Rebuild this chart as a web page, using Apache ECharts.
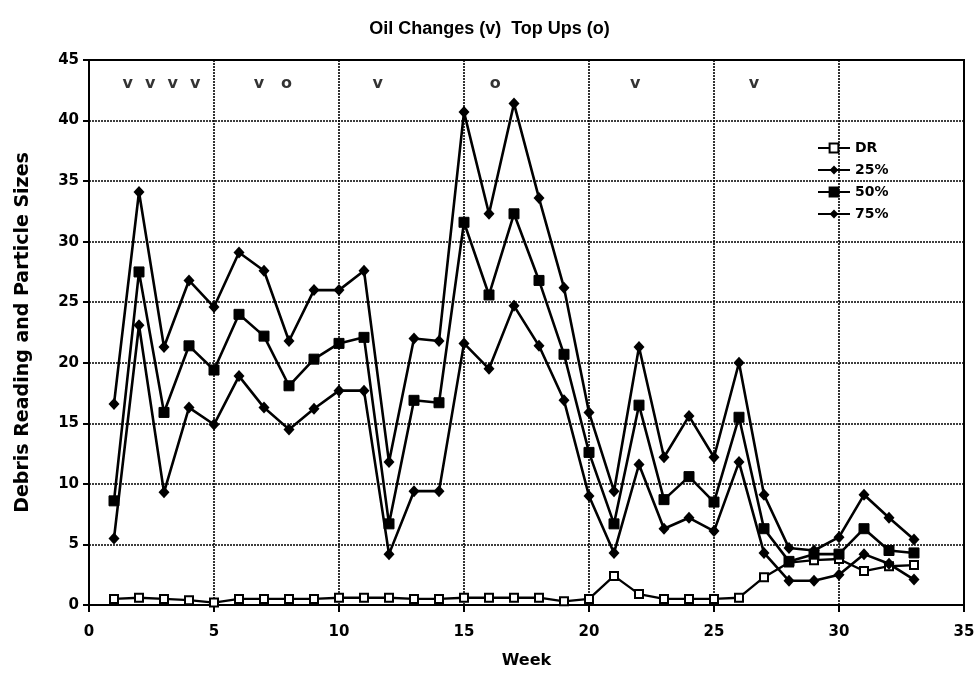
<!DOCTYPE html>
<html>
<head>
<meta charset="utf-8">
<script src="https://cdn.jsdelivr.net/npm/echarts@6/dist/echarts.min.js"></script>
<style>html,body{margin:0;padding:0;background:#fff}#c{width:979px;height:678px}</style>
</head>
<body>
<div id="c"></div>
<script>
const weeks = [1,2,3,4,5,6,7,8,9,10,11,12,13,14,15,16,17,18,19,20,21,22,23,24,25,26,27,28,29,30,31,32,33];
const dr  = [0.5,0.6,0.5,0.4,0.2,0.5,0.5,0.5,0.5,0.6,0.6,0.6,0.5,0.5,0.6,0.6,0.6,0.6,0.3,0.5,2.4,0.9,0.5,0.5,0.5,0.6,2.3,3.5,3.7,3.8,2.8,3.2,3.3];
const p25 = [5.5,23.1,9.3,16.3,14.9,18.9,16.3,14.5,16.2,17.7,17.7,4.2,9.4,9.4,21.6,19.5,24.7,21.4,16.9,9.0,4.3,11.6,6.3,7.2,6.1,11.8,4.3,2.0,2.0,2.5,4.2,3.4,2.1];
const p50 = [8.6,27.5,15.9,21.4,19.4,24.0,22.2,18.1,20.3,21.6,22.1,6.7,16.9,16.7,31.6,25.6,32.3,26.8,20.7,12.6,6.7,16.5,8.7,10.6,8.5,15.5,6.3,3.6,4.2,4.2,6.3,4.5,4.3];
const p75 = [16.6,34.1,21.3,26.8,24.6,29.1,27.6,21.8,26.0,26.0,27.6,11.8,22.0,21.8,40.7,32.3,41.4,33.6,26.2,15.9,9.4,21.3,12.2,15.6,12.2,20.0,9.1,4.7,4.5,5.6,9.1,7.2,5.4];
// event markers: oil changes (v), top ups (o)
const markX    = [1.55,2.45,3.35,4.25,6.8,7.9,11.55,16.25,21.85,26.6];
const markText = ['v','v','v','v','v','o','v','o','v','v'];
const markY = 43;

const pair = a => weeks.map((w,i)=>[w,a[i]]);
const FONT = 'DejaVu Sans';
const chart = echarts.init(document.getElementById('c'));
const lineBase = {type:'line', lineStyle:{color:'#000',width:2.6}, z:3};
chart.setOption({
  animation:false,
  backgroundColor:'#fff',
  title:{text:'Oil Changes (v)  Top Ups (o)', left:'center', top:15,
    textStyle:{fontFamily:'Liberation Sans', fontWeight:'bold', fontSize:18, color:'#000'}},
  legend:{data:['DR','25%','50%','75%'], orient:'vertical', left:812, top:136,
    itemWidth:32, itemHeight:11, itemGap:8,
    textStyle:{fontFamily:FONT, fontWeight:'bold', fontSize:14, color:'#000'}},
  grid:{left:89, right:15, top:60, bottom:73, show:true, borderColor:'#000', borderWidth:2},
  xAxis:{type:'value', min:0, max:35, interval:5, name:'Week', nameLocation:'middle', nameGap:48,
    nameTextStyle:{fontFamily:FONT, fontWeight:'bold', fontSize:16, color:'#000'},
    axisLine:{lineStyle:{color:'#000',width:2}},
    axisTick:{show:true, length:7, lineStyle:{color:'#000',width:2}},
    axisLabel:{fontFamily:FONT, fontWeight:'bold', fontSize:15, color:'#000', margin:20},
    splitLine:{show:true, lineStyle:{color:'#000', width:1.6, type:[2,1]}}},
  yAxis:{type:'value', min:0, max:45, interval:5, name:'Debris Reading and Particle Sizes',
    nameLocation:'middle', nameGap:56,
    nameTextStyle:{fontFamily:FONT, fontWeight:'bold', fontSize:19, color:'#000'},
    axisLine:{lineStyle:{color:'#000',width:2}},
    axisTick:{show:true, length:6, lineStyle:{color:'#000',width:2}},
    axisLabel:{fontFamily:FONT, fontWeight:'bold', fontSize:15, color:'#000', margin:10},
    splitLine:{show:true, lineStyle:{color:'#000', width:1.6, type:[2,1]}}},
  series:[
    Object.assign({}, lineBase, {name:'DR', data:pair(dr), symbol:'rect', symbolSize:8,
      itemStyle:{color:'#fff', borderColor:'#000', borderWidth:2}, lineStyle:{color:'#000',width:2.3}}),
    Object.assign({}, lineBase, {name:'25%', data:pair(p25), symbol:'diamond', symbolSize:[11,12],
      itemStyle:{color:'#000'}}),
    Object.assign({}, lineBase, {name:'50%', data:pair(p50), symbol:'rect', symbolSize:10,
      itemStyle:{color:'#000', borderColor:'#000', borderWidth:1}}),
    Object.assign({}, lineBase, {name:'75%', data:pair(p75), symbol:'diamond', symbolSize:[11,12],
      itemStyle:{color:'#000'}}),
    {type:'scatter', name:'marks', symbolSize:0, silent:true, z:4,
      data: markX.map((x,i)=>({value:[x,markY], name:markText[i]})),
      label:{show:true, position:'inside', formatter:'{b}', fontFamily:FONT, fontWeight:'bold', fontSize:16, color:'#000'}}
  ]
});
</script>
</body>
</html>
